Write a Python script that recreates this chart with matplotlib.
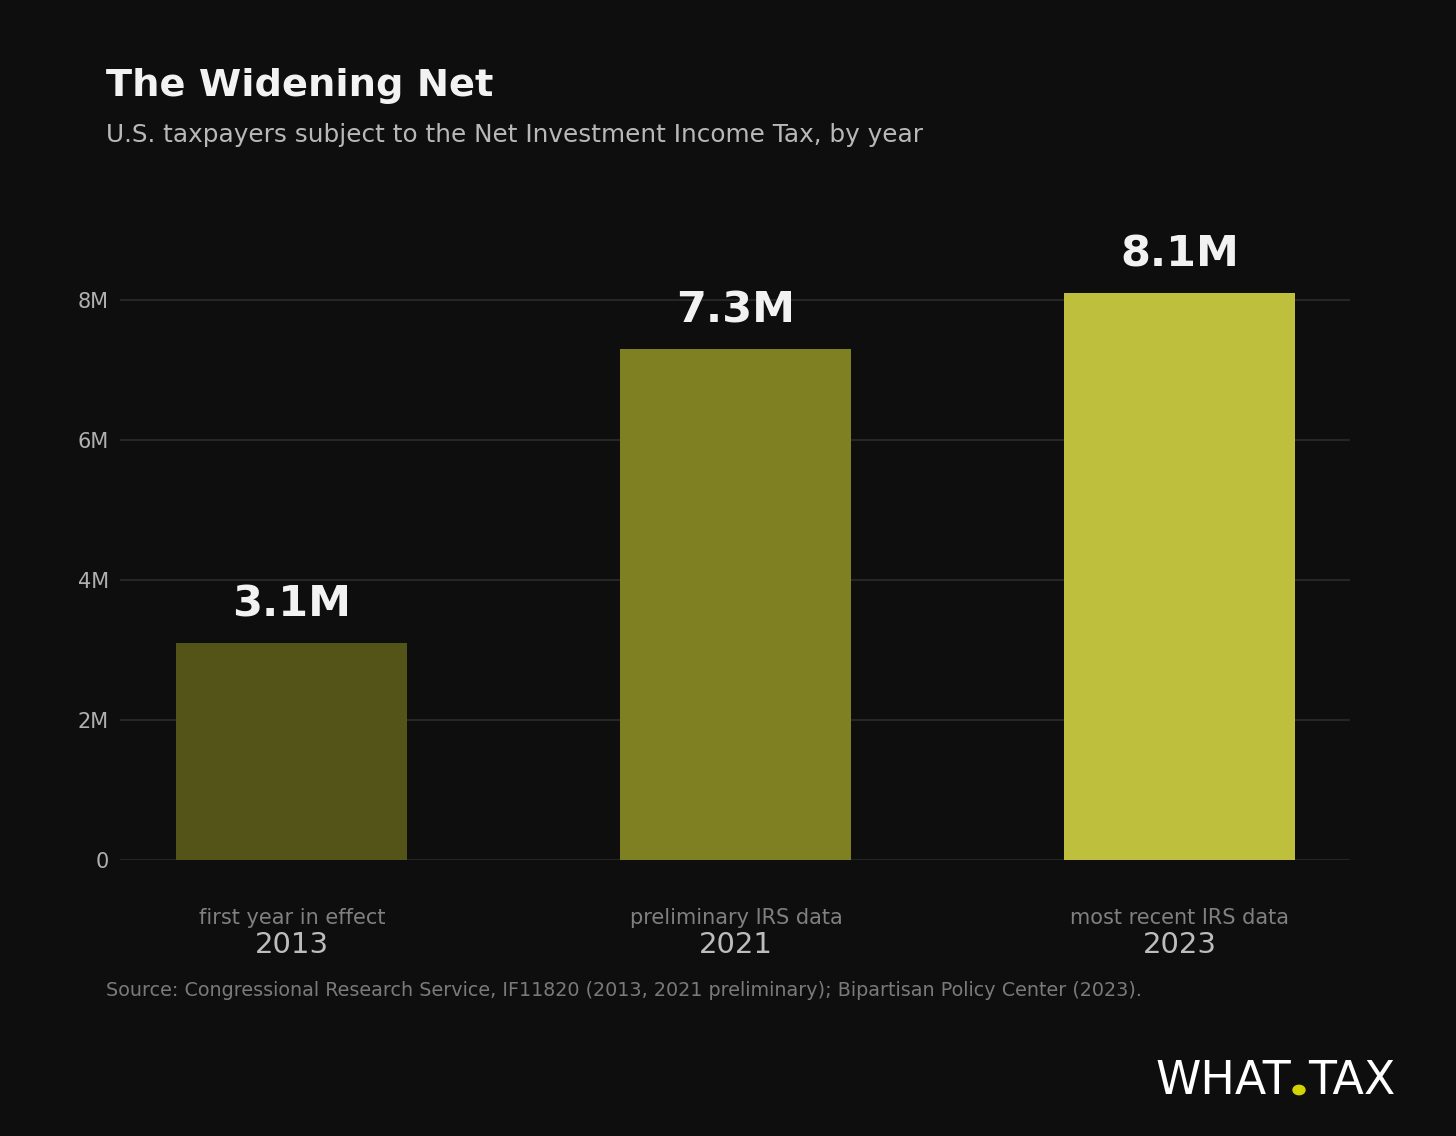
import matplotlib
matplotlib.use('Agg')
import matplotlib.pyplot as plt

years = ['2013', '2021', '2023']
notes = ['first year in effect', 'preliminary IRS data', 'most recent IRS data']
values = [3.1, 7.3, 8.1]  # millions
labels = ['3.1M', '7.3M', '8.1M']
colors = ['#545419', '#7f8022', '#bebf3d']
yticks = [0, 2, 4, 6, 8]
yticklabels = ['0', '2M', '4M', '6M', '8M']

bg = '#0e0e0e'
fig = plt.figure(figsize=(14.56, 11.36), dpi=100, facecolor=bg)
ax = fig.add_axes([0.0824, 0.243, 0.8448, 0.555], facecolor=bg)

x = list(range(len(years)))
ax.bar(x, values, width=0.52, color=colors, zorder=3)
for i, v in enumerate(values):
    ax.text(i, v + 0.25, labels[i], ha='center', va='bottom', color='#f2f2f2',
            fontsize=31, fontweight='bold')
    ax.text(i, -0.69, notes[i], ha='center', va='top', color='#808080', fontsize=15)
    ax.text(i, -1.02, years[i], ha='center', va='top', color='#bdbdbd', fontsize=21)

ax.set_xlim(-0.387, 2.383)
ax.set_ylim(0, 9)
ax.set_yticks(yticks)
ax.set_yticklabels(yticklabels)
ax.set_xticks([])
ax.tick_params(axis='y', length=0, colors='#b0b0b0', labelsize=15, pad=8)
ax.grid(axis='y', color='#262626', linewidth=1.5, zorder=0)
for s in ax.spines.values():
    s.set_visible(False)
ax.axhline(0, color='#1e1e1e', linewidth=1, zorder=2)

fig.text(0.073, 0.924, 'The Widening Net', color='#f2f2f2', fontsize=27.6,
         fontweight='bold', va='center')
fig.text(0.073, 0.881, 'U.S. taxpayers subject to the Net Investment Income Tax, by year',
         color='#b8b8b8', fontsize=17.8, va='center')
fig.text(0.073, 0.128, 'Source: Congressional Research Service, IF11820 (2013, 2021 preliminary); '
         'Bipartisan Policy Center (2023).', color='#7a7a7a', fontsize=13.8, va='center')

# logo
fig.text(0.7935, 0.037, 'WHAT', color='white', fontsize=33, va='baseline', ha='left')
fig.text(0.8985, 0.037, 'TAX', color='white', fontsize=33, va='baseline', ha='left')
fig.patches.append(matplotlib.patches.Circle((1299 / 1456, 1 - 1090 / 1136), 6 / 1456,
                   transform=fig.transFigure, color='#d4d400'))

fig.savefig('out.png', dpi=100, facecolor=bg)
